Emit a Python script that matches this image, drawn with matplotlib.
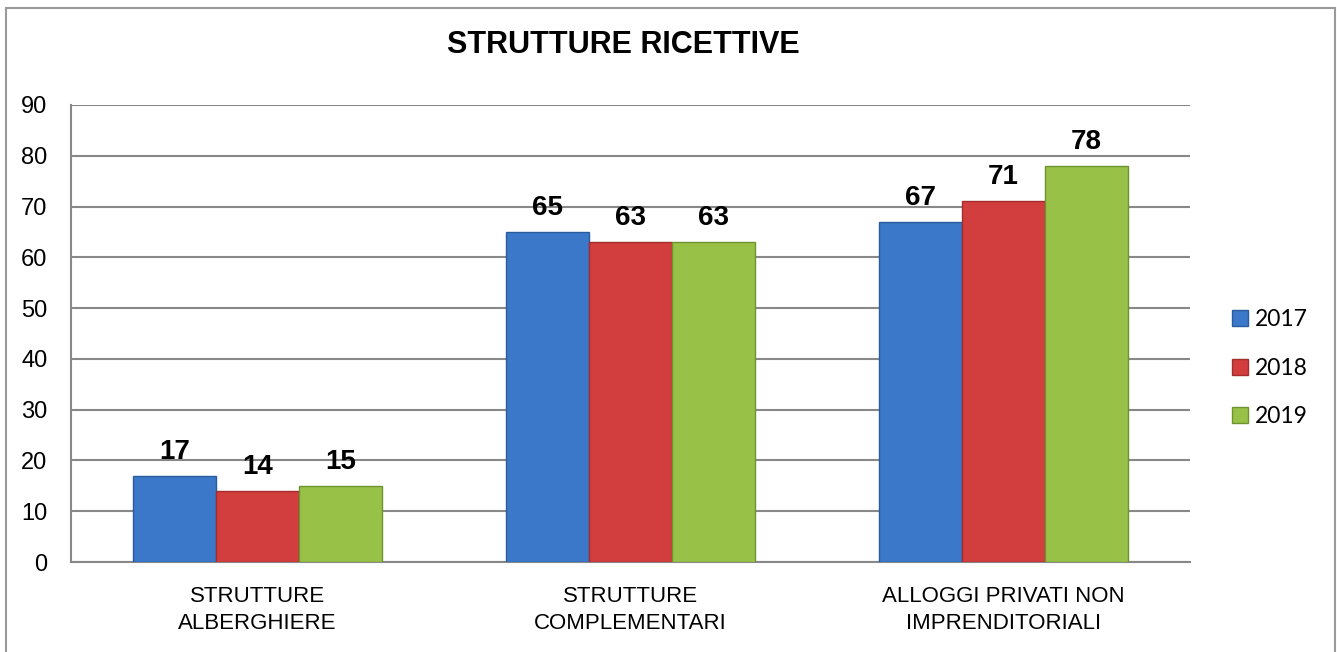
import numpy as np
import matplotlib.pyplot as plt
from matplotlib.patches import Rectangle

# data
categories = ['STRUTTURE\nALBERGHIERE', 'STRUTTURE\nCOMPLEMENTARI', 'ALLOGGI PRIVATI NON\nIMPRENDITORIALI']
years = ['2017', '2018', '2019']
values_2017 = [17, 65, 67]
values_2018 = [14, 63, 71]
values_2019 = [15, 63, 78]
colors = ['#3b78c9', '#d23d3d', '#97c247']
edges = ['#2a5b9c', '#a32c2c', '#6f9330']

fig = plt.figure(figsize=(13.37, 6.52), dpi=100)
ax = fig.add_axes([0.0531, 0.138, 0.8369, 0.701])

x = np.arange(len(categories))
width = 0.223
series = [values_2017, values_2018, values_2019]
for i, vals in enumerate(series):
    pos = x + (i - 1) * width
    bars = ax.bar(pos, vals, width, color=colors[i], edgecolor=edges[i],
                  linewidth=1.0, label=years[i], zorder=3)
    for b, v in zip(bars, vals):
        ax.annotate(str(v), (b.get_x() + b.get_width() / 2, v),
                    xytext=(0, 8), textcoords='offset points',
                    ha='center', va='bottom', fontsize=20, fontweight='bold',
                    family='Liberation Sans', color='black')

ax.set_xlim(-0.5, 2.5)
ax.set_ylim(0, 90)
ax.set_yticks(range(0, 91, 10))
ax.set_xticks(x)
ax.set_xticklabels(categories, fontsize=16, family='Liberation Sans', linespacing=1.4)
for lab in ax.get_yticklabels():
    lab.set_family('Liberation Sans')
    lab.set_fontsize(17)
ax.tick_params(axis='both', length=0)
ax.tick_params(axis='y', pad=17)
ax.tick_params(axis='x', pad=17)

ax.grid(axis='y', color='#888888', linewidth=1.5, zorder=0)
ax.set_axisbelow(True)
for s in ['top', 'right']:
    ax.spines[s].set_visible(False)
for s in ['left', 'bottom']:
    ax.spines[s].set_color('#888888')
    ax.spines[s].set_linewidth(1.5)

leg = fig.legend(loc='upper left', bbox_to_anchor=(0.906, 0.557), frameon=False,
                 prop={'family': 'Lato', 'size': 16.5}, handlelength=0.7,
                 handleheight=0.7, handletextpad=0.3, labelspacing=1.2)

fig.text(0.466, 0.931, 'STRUTTURE RICETTIVE', ha='center', va='center',
         fontsize=22, fontweight='bold', family='Liberation Sans')

# outer chart border
fig.patches.append(Rectangle((0.0045, -0.02), 0.994, 1.0077, transform=fig.transFigure,
                             fill=False, edgecolor='#9a9a9a', linewidth=1.5))

fig.savefig('out.png', dpi=100)
